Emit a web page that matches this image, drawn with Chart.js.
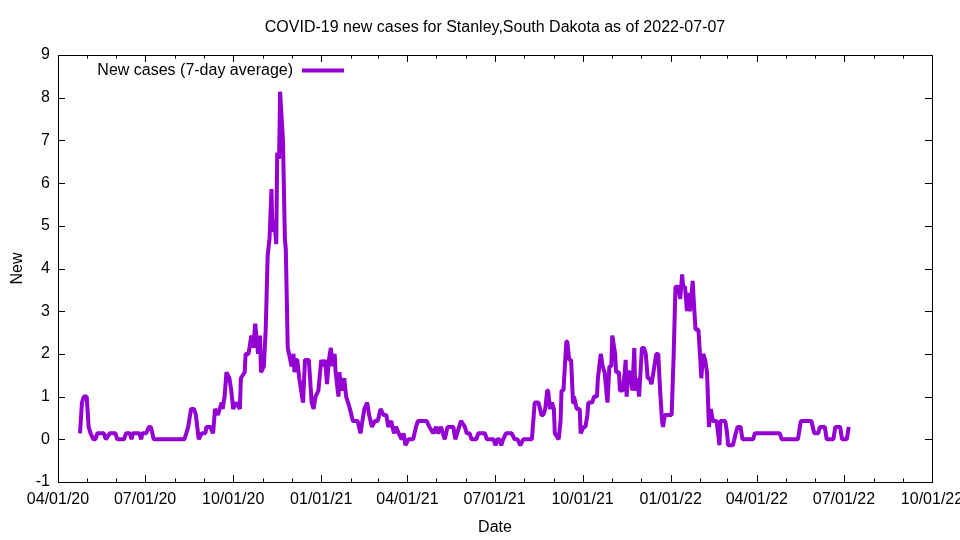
<!DOCTYPE html>
<html lang="en">
  <head>
    <meta charset="UTF-8" />
    <title>COVID-19 new cases - Stanley, South Dakota</title>
    <script src="https://cdn.jsdelivr.net/npm/chart.js"></script>
    <style>
      html, body { margin: 0; padding: 0; background: #fff; }
      #wrap { width: 960px; height: 540px; }
    </style>
  </head>
  <body>
    <div id="wrap"><canvas id="chartCases" width="960" height="540"></canvas></div>
    <script>
      // 7-day average of new cases (irregular dates)
      var dates2020 = ['2020-04-24','2020-04-26','2020-04-28','2020-05-01','2020-05-03','2020-05-05','2020-05-08','2020-05-10',
        '2020-05-12','2020-05-19','2020-05-21','2020-05-25','2020-05-31','2020-06-02','2020-06-09','2020-06-11','2020-06-15',
        '2020-06-17','2020-06-18','2020-06-25','2020-06-27','2020-06-28','2020-07-02','2020-07-05','2020-07-07','2020-07-10',
        '2020-08-11','2020-08-13','2020-08-15','2020-08-18','2020-08-21','2020-08-23','2020-08-26','2020-08-29','2020-09-02',
        '2020-09-03','2020-09-07','2020-09-10','2020-09-12','2020-09-15','2020-09-19','2020-09-20','2020-09-22','2020-09-24',
        '2020-09-27','2020-09-29','2020-10-01','2020-10-04','2020-10-08','2020-10-09','2020-10-13','2020-10-14','2020-10-17',
        '2020-10-20','2020-10-22','2020-10-24','2020-10-27','2020-10-29','2020-10-30','2020-11-02','2020-11-04','2020-11-06',
        '2020-11-08','2020-11-10','2020-11-11','2020-11-13','2020-11-15','2020-11-16','2020-11-18','2020-11-19','2020-11-22',
        '2020-11-24','2020-11-25','2020-11-27','2020-12-01','2020-12-03','2020-12-04','2020-12-06','2020-12-07','2020-12-09',
        '2020-12-12','2020-12-13','2020-12-15','2020-12-19','2020-12-22','2020-12-24','2020-12-26','2020-12-29'];
      var cases2020 = [0.14,0.86,1.0,1.0,0.29,0.14,0,0,
        0.14,0.14,0,0.14,0.14,0,0,0.14,0.14,
        0,0.14,0.14,0,0.14,0.14,0.29,0.29,0,
        0,0.14,0.29,0.71,0.71,0.57,0,0.14,0.14,
        0.29,0.29,0.14,0.71,0.57,0.86,0.71,1.0,1.57,
        1.43,1.14,0.71,0.86,0.71,1.43,1.57,2.0,2.0,
        2.43,2.14,2.71,2.0,2.43,1.57,1.71,2.57,4.29,
        4.71,5.86,4.86,5.14,4.57,6.71,6.57,8.14,7.0,
        4.71,4.43,2.14,1.71,2.0,1.57,1.86,1.86,1.43,
        1.0,0.86,1.86,1.86,0.86,0.71,1.0,1.14];

      var dates2021 = ['2021-01-01','2021-01-03','2021-01-05','2021-01-07','2021-01-09','2021-01-11','2021-01-13','2021-01-15',
        '2021-01-16','2021-01-19','2021-01-20','2021-01-22','2021-01-25','2021-01-27','2021-01-29','2021-01-31','2021-02-03',
        '2021-02-05','2021-02-08','2021-02-11','2021-02-13','2021-02-15','2021-02-18','2021-02-20','2021-02-23','2021-02-26',
        '2021-03-01','2021-03-04','2021-03-07','2021-03-10','2021-03-12','2021-03-15','2021-03-18','2021-03-20','2021-03-23',
        '2021-03-26','2021-03-28','2021-03-30','2021-04-02','2021-04-07','2021-04-10','2021-04-12','2021-04-21','2021-04-24',
        '2021-04-28','2021-05-01','2021-05-03','2021-05-06','2021-05-10','2021-05-13','2021-05-19','2021-05-21','2021-05-25',
        '2021-05-27','2021-05-31','2021-06-02','2021-06-05','2021-06-07','2021-06-12','2021-06-14','2021-06-21','2021-06-23',
        '2021-06-30','2021-07-02','2021-07-04','2021-07-06','2021-07-08','2021-07-10','2021-07-13','2021-07-19','2021-07-22',
        '2021-07-25','2021-07-28','2021-07-31','2021-08-09','2021-08-11','2021-08-12','2021-08-16','2021-08-19','2021-08-21',
        '2021-08-23','2021-08-25','2021-08-26','2021-08-28','2021-08-30','2021-09-01','2021-09-02','2021-09-06','2021-09-08',
        '2021-09-09','2021-09-11','2021-09-14','2021-09-15','2021-09-17','2021-09-19','2021-09-21','2021-09-22','2021-09-25',
        '2021-09-28','2021-09-29','2021-10-02','2021-10-04','2021-10-06','2021-10-07','2021-10-11','2021-10-13','2021-10-16',
        '2021-10-17','2021-10-20','2021-10-22','2021-10-24','2021-10-27','2021-10-29','2021-10-31','2021-11-01','2021-11-04',
        '2021-11-05','2021-11-08','2021-11-09','2021-11-12','2021-11-14','2021-11-15','2021-11-16','2021-11-18','2021-11-20',
        '2021-11-22','2021-11-24','2021-11-25','2021-11-27','2021-11-29','2021-12-02','2021-12-04','2021-12-06','2021-12-08',
        '2021-12-10','2021-12-12','2021-12-14','2021-12-17','2021-12-19','2021-12-21','2021-12-23','2021-12-24','2021-12-26'];
      var cases2021 = [1.86,1.71,1.86,1.29,1.86,2.14,1.71,2.0,
        1.57,1.0,1.57,1.14,1.43,1.0,0.86,0.71,0.43,
        0.43,0.43,0.14,0.43,0.71,0.86,0.57,0.29,0.43,
        0.43,0.71,0.57,0.57,0.29,0.43,0.14,0.29,0.14,
        0,0.14,-0.14,0,0,0.29,0.43,0.43,0.29,
        0.14,0.29,0.14,0.29,0,0.29,0.29,0,0.29,
        0.43,0.29,0.14,0.14,0,0,0.14,0.14,0,
        0,-0.14,0,0,-0.14,0,0.14,0.14,0,
        0,-0.14,0,0,0.57,0.86,0.86,0.57,0.57,
        0.71,1.14,1.14,0.71,0.86,0.71,0.14,0,0.43,
        1.14,1.14,2.29,2.29,1.86,1.86,0.86,1.0,0.71,
        0.71,0.14,0.29,0.29,0.57,0.86,0.86,1.0,1.0,
        1.43,2.0,1.71,1.57,0.86,1.71,1.71,2.43,2.0,
        1.57,1.57,1.14,1.14,1.57,1.86,1.0,1.57,1.57,
        1.14,2.14,1.14,1.43,1.0,2.14,2.14,2.0,1.43,
        1.43,1.29,1.57,2.0,2.0,1.14,0.43,0.29,0.57];

      var dates2022 = ['2022-01-02','2022-01-04','2022-01-06','2022-01-09','2022-01-11','2022-01-13','2022-01-14','2022-01-16',
        '2022-01-18','2022-01-19','2022-01-21','2022-01-22','2022-01-24','2022-01-25','2022-01-27','2022-01-30','2022-02-01',
        '2022-02-02','2022-02-04','2022-02-06','2022-02-08','2022-02-10','2022-02-12','2022-02-14','2022-02-18','2022-02-21',
        '2022-02-22','2022-02-27','2022-03-01','2022-03-02','2022-03-07','2022-03-10','2022-03-12','2022-03-15','2022-03-17',
        '2022-03-28','2022-03-30','2022-04-25','2022-04-27','2022-05-14','2022-05-17','2022-05-28','2022-05-31','2022-06-04',
        '2022-06-06','2022-06-11','2022-06-13','2022-06-20','2022-06-22','2022-06-27','2022-06-29','2022-07-04','2022-07-06'];
      var cases2022 = [0.57,1.86,3.57,3.57,3.29,3.86,3.57,3.57,
        3.0,3.43,3.0,3.14,3.71,3.29,2.57,2.57,1.86,
        1.43,2.0,1.86,1.57,0.29,0.71,0.43,0.43,-0.14,
        0.43,0.43,0.14,-0.14,-0.14,0.14,0.29,0.29,0,
        0,0.14,0.14,0,0,0.43,0.43,0.14,0.14,
        0.29,0.29,0,0,0.29,0.29,0,0,0.29];

      var yTicks = [-1, 0, 1, 2, 3, 4, 5, 6, 7, 8, 9];
      var axisStart = '2020-04-01';
      var axisEnd = '2022-10-01';

      function toDay(s) {
        return Date.UTC(+s.slice(0, 4), +s.slice(5, 7) - 1, +s.slice(8, 10)) / 86400000;
      }

      // month starts between the axis ends (minor ticks), quarters get labels
      var monthTicks = [];
      (function () {
        var yr = 2020, mo = 3;
        while (true) {
          var d = Date.UTC(yr, mo, 1) / 86400000;
          if (d > toDay(axisEnd)) break;
          monthTicks.push({ value: d, major: mo % 3 === 0 });
          mo++;
          if (mo > 11) { mo = 0; yr++; }
        }
      })();

      var allDates = dates2020.concat(dates2021, dates2022);
      var allCases = cases2020.concat(cases2021, cases2022);
      var points = allDates.map(function (d, i) { return { x: toDay(d), y: allCases[i] }; });

      var violet = '#9400d3';
      var font = { family: '"Liberation Sans", Arial, sans-serif', size: 16 };

      // gnuplot-like frame, inward ticks, title and legend
      var framePlugin = {
        id: 'frame',
        afterDraw: function (chart) {
          var ctx = chart.ctx, a = chart.chartArea;
          var xs = chart.scales.x, ys = chart.scales.y;
          ctx.save();
          ctx.strokeStyle = '#000';
          ctx.lineWidth = 1;
          ctx.beginPath();
          yTicks.forEach(function (v) {
            var py = Math.round(ys.getPixelForValue(v)) + 0.5;
            ctx.moveTo(a.left, py); ctx.lineTo(a.left + 7, py);
            ctx.moveTo(a.right, py); ctx.lineTo(a.right - 7, py);
          });
          monthTicks.forEach(function (t) {
            var px = Math.round(xs.getPixelForValue(t.value)) + 0.5;
            var len = t.major ? 7 : 3.5;
            ctx.moveTo(px, a.bottom); ctx.lineTo(px, a.bottom - len);
            ctx.moveTo(px, a.top); ctx.lineTo(px, a.top + len);
          });
          ctx.stroke();
          ctx.strokeRect(Math.round(a.left) + 0.5, Math.round(a.top) + 0.5,
            Math.round(a.right - a.left), Math.round(a.bottom - a.top));

          ctx.fillStyle = '#000';
          ctx.font = '16px ' + font.family;
          ctx.textBaseline = 'middle';
          ctx.textAlign = 'center';
          ctx.fillText('COVID-19 new cases for Stanley,South Dakota as of 2022-07-07', (a.left + a.right) / 2, 28);

          // key: text first, then the line sample
          ctx.textAlign = 'right';
          ctx.fillText('New cases (7-day average)', 293, 71);
          ctx.strokeStyle = violet;
          ctx.lineWidth = 4;
          ctx.beginPath();
          ctx.moveTo(302, 70.5); ctx.lineTo(344, 70.5);
          ctx.stroke();
          ctx.restore();
        }
      };

      var ctxCases = document.getElementById('chartCases').getContext('2d');
      var chartCases = new Chart(ctxCases, {
        type: 'line',
        data: {
          datasets: [{
            label: 'New cases (7-day average)',
            data: points,
            borderColor: violet,
            backgroundColor: violet,
            borderWidth: 4,
            borderJoinStyle: 'bevel',
            pointRadius: 0,
            tension: 0,
            fill: false
          }]
        },
        options: {
          responsive: false,
          animation: false,
          layout: { padding: { top: 55, right: 28, left: 0, bottom: 0 } },
          plugins: {
            legend: { display: false },
            tooltip: { enabled: false },
            title: { display: false }
          },
          scales: {
            x: {
              type: 'linear',
              min: toDay(axisStart),
              max: toDay(axisEnd),
              grid: { display: false, drawTicks: false },
              border: { display: false },
              afterBuildTicks: function (scale) {
                scale.ticks = monthTicks.filter(function (t) { return t.major; })
                  .map(function (t) { return { value: t.value }; });
              },
              afterFit: function (scale) {
                scale.height = 58;
                scale.paddingLeft = 0;
                scale.paddingRight = 0;
              },
              ticks: {
                autoSkip: false,
                maxRotation: 0,
                padding: 8,
                color: '#000',
                font: font,
                callback: function (value) {
                  var d = new Date(value * 86400000);
                  var mm = String(d.getUTCMonth() + 1).padStart(2, '0');
                  var dd = String(d.getUTCDate()).padStart(2, '0');
                  var yy = String(d.getUTCFullYear()).slice(2);
                  return mm + '/' + dd + '/' + yy;
                }
              },
              title: { display: true, text: 'Date', color: '#000', font: font, padding: { top: 0, bottom: 3 } }
            },
            y: {
              min: -1,
              max: 9,
              grid: { display: false, drawTicks: false },
              border: { display: false },
              afterBuildTicks: function (scale) {
                scale.ticks = yTicks.map(function (v) { return { value: v }; });
              },
              afterFit: function (scale) {
                scale.width = 58;
                scale.paddingTop = 0;
                scale.paddingBottom = 0;
              },
              ticks: { padding: 8, color: '#000', font: font },
              title: { display: true, text: 'New', color: '#000', font: font, padding: { top: 8, bottom: 0 } }
            }
          }
        },
        plugins: [framePlugin]
      });
    </script>
  </body>
</html>
